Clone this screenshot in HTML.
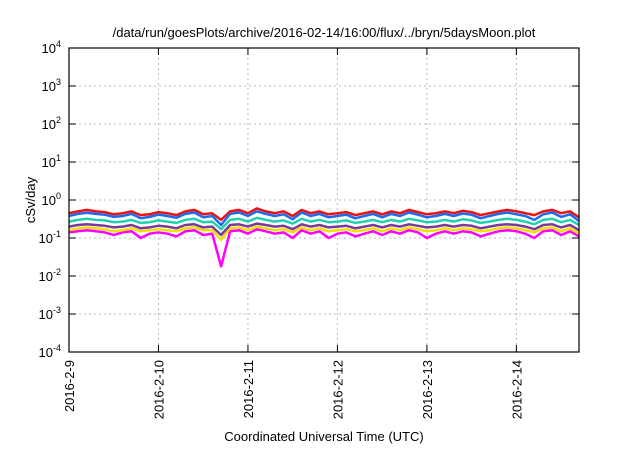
<!DOCTYPE html>
<html><head><meta charset="utf-8"><style>
body{margin:0;background:#fff;width:640px;height:448px;overflow:hidden}
svg{font-family:"Liberation Sans",sans-serif}
</style></head><body>
<svg id="chart" width="640" height="448">
<text x="324" y="37" font-size="13" text-anchor="middle">/data/run/goesPlots/archive/2016-02-14/16:00/flux/../bryn/5daysMoon.plot</text>
<text x="324" y="441" font-size="13" text-anchor="middle">Coordinated Universal Time (UTC)</text>
<text transform="translate(35,200) rotate(-90)" font-size="13" text-anchor="middle">cSv/day</text>
<g id="grid"></g><g id="series"></g><g id="axes"></g>
</svg>
<script>
const yTickExp=[4,3,2,1,0,-1,-2,-3,-4];
const xTickLabels=["2016-2-9","2016-2-10","2016-2-11","2016-2-12","2016-2-13","2016-2-14"];
const xTickDays=[0,1,2,3,4,5];
const tStart=0, tEnd=5.7, step=0.1;
const red=[0.45,0.5,0.55,0.5,0.48,0.42,0.45,0.5,0.4,0.42,0.48,0.45,0.4,0.5,0.55,0.42,0.45,0.3,0.5,0.55,0.45,0.6,0.5,0.45,0.5,0.38,0.55,0.45,0.5,0.42,0.45,0.48,0.4,0.45,0.5,0.42,0.5,0.45,0.55,0.48,0.42,0.45,0.5,0.45,0.52,0.48,0.4,0.45,0.5,0.55,0.5,0.45,0.4,0.5,0.55,0.45,0.5,0.35];
const blue=[0.38,0.43,0.46,0.43,0.41,0.36,0.38,0.43,0.33,0.36,0.41,0.38,0.34,0.43,0.47,0.35,0.38,0.22,0.43,0.47,0.38,0.5,0.43,0.38,0.42,0.31,0.47,0.38,0.43,0.35,0.38,0.41,0.33,0.38,0.43,0.35,0.43,0.38,0.47,0.41,0.35,0.38,0.43,0.38,0.44,0.41,0.33,0.38,0.43,0.47,0.42,0.38,0.3,0.42,0.47,0.36,0.42,0.28];
const cyan=[0.27,0.3,0.32,0.3,0.29,0.26,0.27,0.3,0.25,0.26,0.29,0.27,0.25,0.3,0.32,0.26,0.27,0.17,0.3,0.32,0.27,0.34,0.3,0.27,0.29,0.24,0.32,0.27,0.3,0.26,0.27,0.29,0.25,0.27,0.3,0.26,0.3,0.27,0.32,0.29,0.26,0.27,0.3,0.27,0.31,0.29,0.25,0.27,0.3,0.32,0.3,0.27,0.23,0.3,0.32,0.26,0.3,0.22];
const purple=[0.2,0.22,0.23,0.22,0.21,0.19,0.2,0.22,0.18,0.19,0.21,0.2,0.18,0.22,0.23,0.19,0.2,0.12,0.22,0.23,0.2,0.24,0.22,0.2,0.21,0.17,0.23,0.2,0.22,0.19,0.2,0.21,0.18,0.2,0.22,0.19,0.22,0.2,0.23,0.21,0.19,0.2,0.22,0.2,0.22,0.21,0.18,0.2,0.22,0.23,0.22,0.2,0.17,0.22,0.23,0.19,0.22,0.16];
const yellow=[0.16,0.18,0.19,0.18,0.17,0.15,0.16,0.18,0.15,0.16,0.17,0.16,0.15,0.18,0.19,0.16,0.16,0.09,0.18,0.19,0.16,0.2,0.18,0.16,0.17,0.14,0.19,0.16,0.18,0.15,0.16,0.17,0.15,0.16,0.18,0.15,0.18,0.16,0.19,0.17,0.15,0.16,0.18,0.16,0.18,0.17,0.15,0.16,0.18,0.19,0.18,0.16,0.14,0.18,0.19,0.15,0.18,0.13];
const magenta=[0.14,0.15,0.16,0.15,0.14,0.12,0.14,0.15,0.1,0.13,0.14,0.13,0.11,0.15,0.16,0.12,0.13,0.018,0.15,0.16,0.13,0.17,0.15,0.13,0.14,0.1,0.16,0.13,0.15,0.1,0.13,0.14,0.11,0.13,0.15,0.12,0.15,0.13,0.16,0.14,0.1,0.13,0.15,0.13,0.15,0.14,0.11,0.13,0.15,0.16,0.15,0.13,0.1,0.15,0.16,0.12,0.15,0.11];
const seriesList=[["magenta",magenta,"#ff00ff"],["yellow",yellow,"#f0e000"],["purple",purple,"#7a3a9a"],["cyan",cyan,"#20d0b0"],["red",red,"#ee1111"],["blue",blue,"#1a6cf0"]];
const L=69,R=579,T=48,B=352;
const NS="http://www.w3.org/2000/svg";
const xS=d=>L+(d-tStart)/(tEnd-tStart)*(R-L);
const yS=v=>T+(4-Math.log10(v))/8*(B-T);
function mk(tag,attrs,parent){const e=document.createElementNS(NS,tag);for(const k in attrs)e.setAttribute(k,attrs[k]);parent.appendChild(e);return e;}
const grid=document.getElementById('grid'),axes=document.getElementById('axes'),ser=document.getElementById('series');
yTickExp.forEach(p=>{const y=T+(4-p)/8*(B-T);
 const g=mk('line',{x1:L,x2:R,y1:y,y2:y,stroke:'#bbb','stroke-dasharray':'2,3','stroke-width':1},grid);
 
 
 mk('line',{x1:L,x2:L+7,y1:y,y2:y,stroke:'#000'},axes);
 mk('line',{x1:R-7,x2:R,y1:y,y2:y,stroke:'#000'},axes);
 const t=mk('text',{x:L-8,y:y+5,'font-size':13,'text-anchor':'end'},axes);
 
 
 t.innerHTML='10<tspan dy="-6" font-size="9">'+p+'</tspan>';
});
xTickDays.forEach((d,i)=>{const x=xS(d);
 const g=mk('line',{x1:x,x2:x,y1:T,y2:B,stroke:'#bbb','stroke-dasharray':'2,3'},grid);
 
 
 mk('line',{x1:x,x2:x,y1:B-7,y2:B,stroke:'#000'},axes);
 mk('line',{x1:x,x2:x,y1:T,y2:T+7,stroke:'#000'},axes);
 const t=mk('text',{transform:`translate(${x+5},${B+8}) rotate(-90)`,'font-size':13,'text-anchor':'end'},axes);
 
 
 t.textContent=xTickLabels[i];
});
const fr=mk('rect',{x:L,y:T,width:R-L,height:B-T,fill:'none',stroke:'#000','stroke-width':1.2},axes);


seriesList.forEach(([n,vals,c])=>{
 const pts=vals.map((v,i)=>xS(tStart+i*step).toFixed(1)+','+yS(v).toFixed(1)).join(' ');
 const pl=mk('polyline',{points:pts,fill:'none',stroke:c,'stroke-width':2.5,'stroke-linejoin':'round'},ser);
 
 
});
</script>
</body></html>
